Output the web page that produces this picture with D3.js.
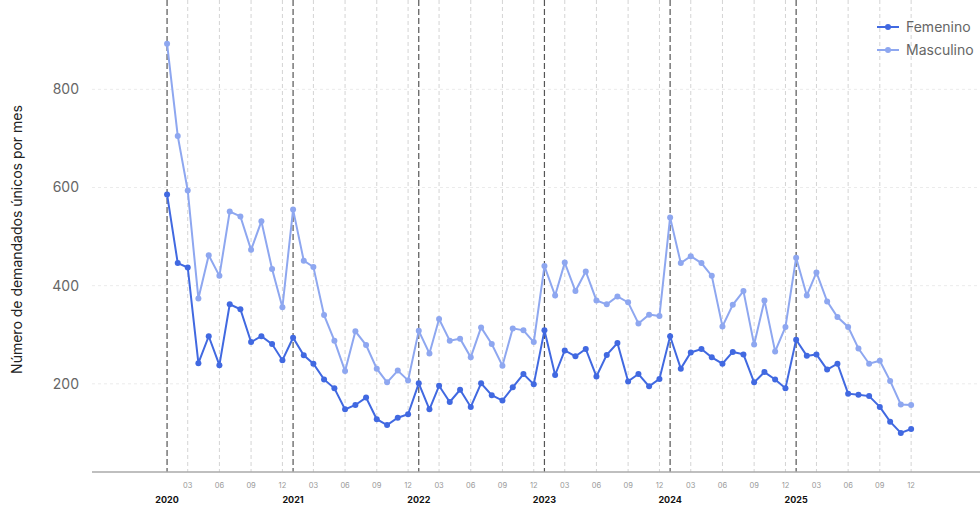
<!DOCTYPE html>
<html>
<head>
<meta charset="utf-8">
<script src="https://cdn.jsdelivr.net/npm/d3@7"></script>
<style>
  body { margin: 0; background: #fff; }
  svg { display: block; font-family: Inter, "Noto Sans", sans-serif; }
</style>
</head>
<body>
<div id="chart"></div>
<script>
const years = [2020, 2021, 2022, 2023, 2024, 2025];
const monthTicks = [3, 6, 9, 12];
const yTicks = [200, 400, 600, 800];

const femenino = [
  586, 446, 437, 242, 297, 238, 362, 352, 285, 297, 281, 248,
  294, 258, 241, 209, 191, 148, 157, 172, 128, 116, 131, 138,
  201, 148, 196, 163, 188, 153, 201, 177, 166, 193, 220, 199,
  309, 218, 268, 256, 271, 215, 259, 283, 205, 220, 195, 210,
  297, 231, 264, 271, 254, 241, 265, 260, 203, 224, 209, 191,
  290, 257, 260, 229, 241, 180, 178, 175, 153, 123, 100, 108
];
const masculino = [
  893, 705, 594, 374, 462, 420, 551, 541, 473, 531, 434, 356,
  555, 451, 438, 340, 288, 226, 307, 279, 231, 203, 227, 207,
  308, 262, 332, 288, 292, 254, 315, 281, 237, 313, 309, 285,
  440, 380, 447, 389, 429, 370, 362, 378, 366, 323, 341, 338,
  539, 446, 460, 446, 420, 317, 361, 389, 280, 370, 266, 316,
  457, 380, 427, 368, 336, 316, 272, 241, 247, 206, 158, 157
];

const series = [
  { name: 'Femenino', color: '#4169e1', values: femenino, r: 3 },
  { name: 'Masculino', color: '#8ea7f0', values: masculino, r: 3 }
];

const W = 980, H = 506;
const plot = { left: 92, right: 980, top: 0, bottom: 472 };

const svg = d3.select('#chart').append('svg').attr('width', W).attr('height', H);

const day = 864e5;
const t0 = new Date(2020, 0, 1).getTime();
const x = d3.scaleTime()
  .domain([new Date(t0 - 218 * day), new Date(t0 + 2361 * day)])
  .range([plot.left, plot.right]);
const y = d3.scaleLinear().domain([20.4, 982]).range([plot.bottom, plot.top]);

const dates = d3.range(72).map(i => new Date(2020, i, 1));

// horizontal grid
svg.append('g').selectAll('line').data(yTicks).join('line')
  .attr('x1', plot.left).attr('x2', plot.right)
  .attr('y1', d => y(d)).attr('y2', d => y(d))
  .attr('stroke', '#ebebeb').attr('stroke-dasharray', '3,3');

// y tick labels
svg.append('g').selectAll('text').data(yTicks).join('text')
  .attr('x', 79).attr('y', d => y(d)).attr('dy', '0.35em')
  .attr('text-anchor', 'end').attr('fill', '#666').style('font-size', '14px')
  .text(d => d);

svg.append('text')
  .attr('transform', `translate(22,${(102 + 377) / 2}) rotate(-90)`)
  .attr('text-anchor', 'middle').attr('fill', '#222').style('font-size', '14px')
  .text('Número de demandados únicos por mes');

// month dashed lines and labels
const monthDates = [];
years.forEach(yr => monthTicks.forEach(m => monthDates.push({ date: new Date(yr, m - 1, 1), label: String(m).padStart(2, '0') })));

svg.append('g').selectAll('line').data(monthDates).join('line')
  .attr('x1', d => x(d.date)).attr('x2', d => x(d.date))
  .attr('y1', plot.top).attr('y2', plot.bottom)
  .attr('stroke', '#d4d4d4').attr('stroke-dasharray', '4,3');

svg.append('g').selectAll('text').data(monthDates).join('text')
  .attr('x', d => x(d.date)).attr('y', 488)
  .attr('text-anchor', 'middle').attr('fill', '#999').style('font-size', '7.5px')
  .text(d => d.label);

// year lines and labels
svg.append('g').selectAll('line').data(years).join('line')
  .attr('x1', d => x(new Date(d, 0, 1))).attr('x2', d => x(new Date(d, 0, 1)))
  .attr('y1', plot.top).attr('y2', plot.bottom)
  .attr('stroke', '#555').attr('stroke-width', 1.2).attr('stroke-dasharray', '6,3');

svg.append('g').selectAll('text').data(years).join('text')
  .attr('x', d => x(new Date(d, 0, 1))).attr('y', 503)
  .attr('text-anchor', 'middle').attr('fill', '#111').style('font-size', '9px').style('font-weight', 'bold')
  .text(d => d);

// x axis baseline
svg.append('line').attr('x1', plot.left).attr('x2', plot.right).attr('y1', plot.bottom).attr('y2', plot.bottom)
  .attr('stroke', '#aaa').attr('stroke-width', 1.5);

const line = d3.line().x((d, i) => x(dates[i])).y(d => y(d));

series.slice().reverse().forEach(s => {
  const g = svg.append('g');
  g.append('path').datum(s.values).attr('fill', 'none').attr('stroke', s.color)
    .attr('stroke-width', 2).attr('d', line);
  g.selectAll('circle').data(s.values).join('circle')
    .attr('cx', (d, i) => x(dates[i])).attr('cy', d => y(d)).attr('r', s.r).attr('fill', s.color);
});

// legend
const legend = svg.append('g').attr('transform', 'translate(877,27)');
series.forEach((s, i) => {
  const g = legend.append('g').attr('transform', `translate(0,${i * 23})`);
  g.append('line').attr('x1', 0).attr('x2', 22).attr('stroke', s.color).attr('stroke-width', 2);
  g.append('circle').attr('cx', 11).attr('r', 3).attr('fill', s.color);
  g.append('text').attr('x', 29).attr('dy', '0.35em').attr('fill', '#666').style('font-size', '14px').text(s.name);
});
</script>
</body>
</html>
